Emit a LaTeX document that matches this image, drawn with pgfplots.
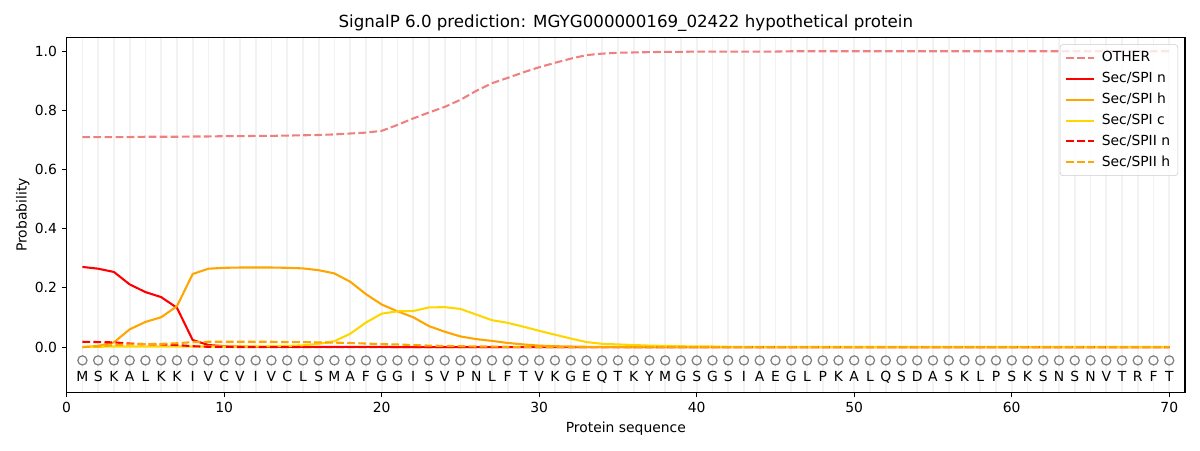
\documentclass[border=0pt]{standalone}
\usepackage{pgfplots}
\usepackage{pgfplotstable}
\pgfplotsset{compat=1.18}
\usepackage{fontspec}
\setmainfont{DejaVu Sans}
\definecolor{lcoral}{HTML}{F08080}
\definecolor{mplorange}{HTML}{FFA500}
\definecolor{mplgold}{HTML}{FFD700}
\definecolor{gridc}{HTML}{F2F2F2}
\pgfplotstableread{
x other spin spih spic spiin spiih aa
1 0.710 0.271 0.000 0.001 0.018 0.000 M
2 0.710 0.265 0.004 0.001 0.017 0.002 S
3 0.710 0.254 0.016 0.002 0.016 0.007 K
4 0.710 0.212 0.060 0.002 0.012 0.009 A
5 0.711 0.186 0.085 0.002 0.010 0.010 L
6 0.711 0.169 0.101 0.002 0.009 0.011 K
7 0.711 0.133 0.138 0.002 0.007 0.013 K
8 0.712 0.024 0.247 0.002 0.003 0.017 I
9 0.712 0.007 0.265 0.002 0.001 0.018 V
10 0.713 0.003 0.268 0.002 0.001 0.018 C
11 0.713 0.002 0.269 0.002 0.000 0.018 V
12 0.714 0.001 0.269 0.002 0.000 0.018 I
13 0.714 0.001 0.269 0.003 0.000 0.018 V
14 0.715 0.001 0.268 0.004 0.000 0.017 C
15 0.716 0.001 0.266 0.006 0.000 0.017 L
16 0.717 0.001 0.260 0.011 0.000 0.016 S
17 0.719 0.001 0.249 0.020 0.000 0.015 M
18 0.722 0.001 0.221 0.045 0.000 0.014 A
19 0.725 0.001 0.179 0.083 0.000 0.012 F
20 0.731 0.001 0.144 0.113 0.000 0.010 G
21 0.751 0.000 0.121 0.121 0.000 0.009 G
22 0.773 0.000 0.101 0.122 0.000 0.007 I
23 0.793 0.000 0.071 0.134 0.000 0.005 S
24 0.812 0.000 0.052 0.135 0.000 0.004 V
25 0.836 0.000 0.036 0.129 0.000 0.003 P
26 0.866 0.000 0.027 0.110 0.000 0.002 N
27 0.892 0.000 0.021 0.091 0.000 0.002 L
28 0.910 0.000 0.014 0.082 0.000 0.001 F
29 0.929 0.000 0.009 0.069 0.000 0.001 T
30 0.946 0.000 0.005 0.055 0.000 0.000 V
31 0.961 0.000 0.003 0.042 0.000 0.000 K
32 0.975 0.000 0.002 0.029 0.000 0.000 G
33 0.987 0.000 0.001 0.017 0.000 0.000 E
34 0.992 0.000 0.001 0.011 0.000 0.000 Q
35 0.995 0.000 0.001 0.009 0.000 0.000 T
36 0.996 0.000 0.000 0.007 0.000 0.000 K
37 0.997 0.000 0.000 0.005 0.000 0.000 Y
38 0.998 0.000 0.000 0.004 0.000 0.000 M
39 0.998 0.000 0.000 0.003 0.000 0.000 G
40 0.999 0.000 0.000 0.002 0.000 0.000 S
41 0.999 0.000 0.000 0.002 0.000 0.000 G
42 0.999 0.000 0.000 0.001 0.000 0.000 S
43 0.999 0.000 0.000 0.001 0.000 0.000 I
44 0.999 0.000 0.000 0.001 0.000 0.000 A
45 0.999 0.000 0.000 0.001 0.000 0.000 E
46 1.000 0.000 0.000 0.001 0.000 0.000 G
47 1.000 0.000 0.000 0.001 0.000 0.000 L
48 1.000 0.000 0.000 0.001 0.000 0.000 P
49 1.000 0.000 0.000 0.001 0.000 0.000 K
50 1.000 0.000 0.000 0.001 0.000 0.000 A
51 1.000 0.000 0.000 0.001 0.000 0.000 L
52 1.000 0.000 0.000 0.001 0.000 0.000 Q
53 1.000 0.000 0.000 0.001 0.000 0.000 S
54 1.000 0.000 0.000 0.001 0.000 0.000 D
55 1.000 0.000 0.000 0.001 0.000 0.000 A
56 1.000 0.000 0.000 0.001 0.000 0.000 S
57 1.000 0.000 0.000 0.001 0.000 0.000 K
58 1.000 0.000 0.000 0.001 0.000 0.000 L
59 1.000 0.000 0.000 0.001 0.000 0.000 P
60 1.000 0.000 0.000 0.001 0.000 0.000 S
61 1.000 0.000 0.000 0.001 0.000 0.000 K
62 1.000 0.000 0.000 0.001 0.000 0.000 S
63 1.000 0.000 0.000 0.001 0.000 0.000 N
64 1.000 0.000 0.000 0.001 0.000 0.000 S
65 1.000 0.000 0.000 0.001 0.000 0.000 N
66 1.000 0.000 0.000 0.001 0.000 0.000 V
67 1.000 0.000 0.000 0.001 0.000 0.000 T
68 1.000 0.000 0.000 0.001 0.000 0.000 R
69 1.000 0.000 0.000 0.001 0.000 0.000 F
70 1.000 0.000 0.000 0.001 0.000 0.000 T
}\datatab
\begin{document}
\begin{tikzpicture}
\begin{axis}[
  name=ax,
  scale only axis,
  width=805.2pt, height=255.6pt,
  xmin=0, xmax=71, ymin=-0.153, ymax=1.047,
  xtick={0,10,...,70},
  ytick={0,0.2,...,1.0},
  minor xtick={1,...,70},
  xminorgrids,
  minor grid style={color=gridc, line width=1.2pt},
  minor tick length=0pt,
  tick align=outside,
  major tick length=3.5pt,
  tick pos=left,
  tick style={black, line width=0.8pt},
  axis line style={line width=0.8pt},
  yticklabel style={/pgf/number format/.cd, fixed, fixed zerofill, precision=1},
  /pgf/number format/assume math mode=true,
  tick label style={font=\fontsize{10}{12}\selectfont},
  label style={font=\fontsize{10}{12}\selectfont},
  ylabel shift=-3pt,
  title style={font=\fontsize{12}{14}\selectfont, yshift=-5pt},
  title={SignalP 6.0 prediction: MGYG000000169\_02422 hypothetical protein},
  xlabel={Protein sequence},
  ylabel={Probability},
  legend style={at={(1,1)}, anchor=north east, xshift=-5pt, yshift=-5pt,
    draw=black!20, rounded corners=2pt, fill=white, fill opacity=0.8, text opacity=1,
    font=\fontsize{10}{12}\selectfont, inner xsep=3.5pt, inner ysep=3pt,
    row sep=2.1pt,
    /tikz/every odd column/.append style={column sep=3pt}},
  legend cell align=left,
  legend image code/.code={\draw[#1] (0pt,0pt) -- (20pt,0pt);},
]
\addplot[lcoral, line width=1.5pt, dash pattern=on 5.55pt off 2.4pt] table[x=x, y=other] {\datatab};
\addlegendentry{OTHER}
\addplot[red, line width=1.5pt] table[x=x, y=spin] {\datatab};
\addlegendentry{Sec/SPI n}
\addplot[mplorange, line width=1.5pt] table[x=x, y=spih] {\datatab};
\addlegendentry{Sec/SPI h}
\addplot[mplgold, line width=1.5pt] table[x=x, y=spic] {\datatab};
\addlegendentry{Sec/SPI c}
\addplot[red, line width=1.5pt, dash pattern=on 5.55pt off 2.4pt] table[x=x, y=spiin] {\datatab};
\addlegendentry{Sec/SPII n}
\addplot[mplorange, line width=1.5pt, dash pattern=on 5.55pt off 2.4pt] table[x=x, y=spiih] {\datatab};
\addlegendentry{Sec/SPII h}
\addplot[forget plot, only marks, mark=o, mark size=3.3pt, color=gray, mark options={line width=0.9pt}] table[x=x, y expr=-0.045] {\datatab};
\addplot[forget plot, only marks, mark=none, nodes near coords, point meta=explicit symbolic,
  every node near coord/.append style={anchor=base, inner sep=0pt, yshift=0pt, font=\fontsize{10}{12}\selectfont, text=black}]
  table[x=x, y expr=-0.115, meta=aa] {\datatab};
\end{axis}
\pgfresetboundingbox
\path[use as bounding box] ([shift={(-48pt,-41.5pt)}]ax.south west) rectangle ([shift={(10.8pt,26.9pt)}]ax.north east);
\end{tikzpicture}
\end{document}
